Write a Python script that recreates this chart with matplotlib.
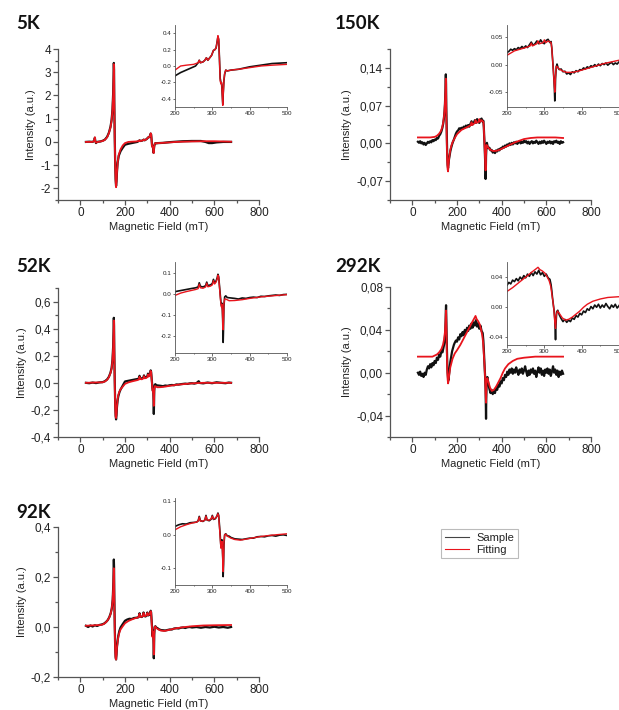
import numpy as np
import matplotlib
matplotlib.use("Agg")
import matplotlib.pyplot as plt
from matplotlib.ticker import FixedLocator, FixedFormatter, MultipleLocator
from matplotlib.lines import Line2D

plt.rcParams['font.family'] = ['Liberation Sans', 'DejaVu Sans']

# EPR spectra, columns: field (mT), intensity (a.u.)
sample_5k = np.array([
    (25, 0.00), (40, 0.01), (55, 0.00), (62, 0.05), (65, 0.18), (67, 0.05), (70, -0.05),
    (75, 0.00), (90, 0.02), (100, 0.05), (110, 0.10), (120, 0.22), (128, 0.40), (135, 0.65),
    (140, 0.95), (144, 1.40), (147, 2.10), (149, 2.90), (150, 3.40), (151, 3.10), (152, 1.80),
    (154, 0.20), (156, -0.90), (158, -1.60), (160, -1.90), (162, -1.70), (164, -1.30),
    (167, -0.90), (172, -0.60), (180, -0.40), (190, -0.25), (200, -0.12), (215, -0.08),
    (230, -0.05), (245, -0.02), (255, 0.00), (262, 0.04), (265, 0.07), (268, 0.04),
    (275, 0.05), (280, 0.07), (284, 0.10), (288, 0.07), (293, 0.10), (298, 0.13),
    (303, 0.19), (307, 0.20), (310, 0.22), (313, 0.30), (315, 0.36), (317, 0.32),
    (319, 0.10), (321, -0.15), (323, -0.20), (325, -0.22), (327, -0.38), (328, -0.47),
    (329, -0.35), (331, -0.18), (333, -0.10), (336, -0.05), (340, -0.06), (350, -0.05),
    (370, -0.04), (400, -0.01), (430, 0.01), (460, 0.03), (500, 0.04), (540, 0.04),
    (560, 0.00), (575, -0.05), (590, -0.05), (610, -0.02), (640, 0.00), (675, 0.00)])
fit_5k = np.array([
    (25, 0.00), (55, 0.00), (62, 0.05), (65, 0.20), (67, 0.03), (70, -0.03), (78, 0.00),
    (100, 0.04), (110, 0.09), (120, 0.20), (128, 0.38), (135, 0.62), (140, 0.92),
    (144, 1.38), (147, 2.05), (149, 2.85), (150, 3.35), (151, 3.05), (152, 1.75),
    (154, 0.15), (156, -0.95), (158, -1.65), (160, -1.95), (162, -1.72), (164, -1.30),
    (167, -0.90), (172, -0.55), (180, -0.32), (190, -0.15), (200, -0.05), (215, 0.00),
    (230, 0.01), (250, 0.02), (262, 0.04), (265, 0.07), (268, 0.04), (275, 0.05),
    (280, 0.07), (284, 0.10), (288, 0.07), (293, 0.10), (298, 0.13), (303, 0.19),
    (307, 0.20), (310, 0.22), (313, 0.30), (315, 0.37), (317, 0.33), (319, 0.10),
    (321, -0.18), (323, -0.22), (325, -0.20), (327, -0.40), (328, -0.48), (329, -0.36),
    (331, -0.18), (333, -0.09), (336, -0.05), (340, -0.06), (350, -0.05), (370, -0.04),
    (400, -0.02), (430, 0.00), (460, 0.01), (500, 0.02), (550, 0.03), (600, 0.03),
    (640, 0.02), (675, 0.01)])

sample_150k = np.array([
    (25, 0.003), (30, 0.001), (35, 0.004), (40, 0.000), (45, 0.002), (50, -0.002),
    (55, 0.001), (60, -0.003), (65, 0.000), (70, 0.003), (75, 0.001), (80, 0.004),
    (85, 0.002), (90, 0.006), (95, 0.004), (100, 0.007), (105, 0.006), (110, 0.010),
    (115, 0.009), (120, 0.014), (125, 0.017), (130, 0.022), (134, 0.028), (138, 0.036),
    (141, 0.045), (144, 0.058), (146, 0.072), (148, 0.095), (149, 0.115), (150, 0.128),
    (151, 0.110), (152, 0.070), (154, 0.020), (156, -0.020), (158, -0.040), (160, -0.046),
    (162, -0.038), (164, -0.030), (167, -0.022), (170, -0.015), (174, -0.008), (178, -0.002),
    (182, 0.003), (186, 0.007), (190, 0.012), (195, 0.018), (200, 0.022), (205, 0.024),
    (210, 0.028), (215, 0.026), (220, 0.029), (225, 0.027), (230, 0.031), (235, 0.029),
    (240, 0.033), (245, 0.030), (250, 0.034), (255, 0.031), (260, 0.036), (265, 0.041),
    (270, 0.035), (275, 0.038), (280, 0.043), (285, 0.038), (290, 0.045), (295, 0.040),
    (300, 0.038), (305, 0.044), (310, 0.046), (315, 0.040), (318, 0.042), (320, 0.030),
    (322, 0.012), (324, -0.008), (326, -0.030), (327, -0.045), (328, -0.066), (329, -0.055),
    (330, -0.025), (332, -0.004), (334, 0.001), (337, -0.006), (340, -0.009), (345, -0.008),
    (350, -0.013), (355, -0.012), (360, -0.017), (365, -0.015), (370, -0.018), (375, -0.013),
    (380, -0.015), (385, -0.011), (390, -0.013), (395, -0.009), (400, -0.010), (405, -0.006),
    (410, -0.008), (415, -0.004), (420, -0.006), (425, -0.002), (430, -0.004), (435, 0.000),
    (440, -0.003), (445, 0.001), (450, -0.002), (455, 0.002), (460, 0.000), (465, 0.003),
    (470, -0.001), (475, 0.002), (480, 0.004), (485, 0.000), (490, 0.003), (495, 0.001),
    (500, 0.005), (505, 0.002), (510, 0.004), (515, 0.000), (520, 0.003), (525, -0.001),
    (530, 0.002), (535, 0.004), (540, 0.000), (545, 0.003), (550, 0.001), (555, 0.005),
    (560, 0.002), (565, -0.001), (570, 0.003), (575, 0.000), (580, 0.004), (585, 0.001),
    (590, 0.005), (595, 0.002), (600, -0.001), (605, 0.003), (610, 0.001), (615, 0.004),
    (620, 0.000), (625, 0.003), (630, -0.001), (635, 0.004), (640, 0.002), (645, 0.005),
    (650, 0.001), (655, 0.003), (660, -0.001), (665, 0.004), (670, 0.001), (675, 0.002)])
fit_150k = np.array([
    (25, 0.011), (80, 0.011), (100, 0.012), (110, 0.014), (120, 0.018), (128, 0.023),
    (134, 0.030), (138, 0.038), (141, 0.047), (144, 0.060), (146, 0.075), (148, 0.095),
    (149, 0.110), (150, 0.120), (151, 0.100), (152, 0.060), (154, 0.010), (156, -0.030),
    (158, -0.048), (160, -0.052), (162, -0.040), (164, -0.030), (167, -0.020), (170, -0.012),
    (175, -0.004), (180, 0.002), (190, 0.010), (200, 0.017), (220, 0.025), (250, 0.031),
    (262, 0.034), (265, 0.039), (268, 0.034), (280, 0.038), (283, 0.043), (287, 0.038),
    (297, 0.040), (300, 0.045), (304, 0.040), (310, 0.043), (318, 0.040), (320, 0.030),
    (322, 0.010), (324, -0.010), (326, -0.030), (328, -0.050), (330, -0.020), (332, -0.003),
    (335, -0.004), (340, -0.008), (350, -0.012), (360, -0.014), (375, -0.014), (390, -0.012),
    (400, -0.010), (420, -0.006), (440, -0.002), (460, 0.002), (480, 0.005), (500, 0.008),
    (530, 0.010), (560, 0.011), (600, 0.011), (640, 0.011), (675, 0.010)])

sample_52k = np.array([
    (25, 0.000), (40, -0.003), (55, 0.002), (70, -0.002), (85, 0.003), (100, 0.005),
    (110, 0.012), (120, 0.025), (128, 0.045), (135, 0.075), (140, 0.110), (144, 0.170),
    (147, 0.270), (149, 0.400), (150, 0.480), (151, 0.420), (152, 0.250), (154, 0.020),
    (156, -0.150), (158, -0.240), (160, -0.270), (162, -0.240), (164, -0.180), (167, -0.130),
    (170, -0.100), (175, -0.070), (180, -0.050), (190, -0.020), (200, 0.010), (215, 0.015),
    (230, 0.020), (245, 0.025), (255, 0.028), (262, 0.032), (265, 0.052), (268, 0.035),
    (275, 0.032), (282, 0.038), (285, 0.055), (288, 0.038), (295, 0.042), (300, 0.048),
    (303, 0.068), (306, 0.052), (310, 0.060), (313, 0.075), (315, 0.092), (317, 0.080),
    (319, 0.040), (321, 0.000), (323, -0.040), (325, -0.060), (326, -0.045), (327, -0.080),
    (328, -0.140), (329, -0.230), (330, -0.160), (331, -0.060), (333, -0.015), (336, -0.010),
    (340, -0.018), (350, -0.020), (360, -0.022), (370, -0.025), (380, -0.020), (390, -0.022),
    (400, -0.018), (410, -0.016), (420, -0.018), (430, -0.012), (440, -0.013), (450, -0.010),
    (460, -0.008), (470, -0.006), (480, -0.008), (490, -0.004), (500, -0.003), (510, -0.006),
    (520, -0.002), (530, 0.012), (535, -0.001), (550, -0.004), (570, 0.002), (590, -0.003),
    (610, 0.004), (630, 0.000), (650, -0.003), (665, 0.002), (675, 0.000)])
fit_52k = np.array([
    (25, 0.000), (100, 0.004), (110, 0.010), (120, 0.022), (128, 0.042), (135, 0.072),
    (140, 0.105), (144, 0.165), (147, 0.260), (149, 0.380), (150, 0.460), (151, 0.410),
    (152, 0.240), (154, 0.000), (156, -0.170), (158, -0.250), (160, -0.260), (162, -0.230),
    (164, -0.170), (167, -0.120), (170, -0.090), (175, -0.065), (180, -0.048), (190, -0.028),
    (200, -0.008), (215, 0.003), (230, 0.010), (245, 0.016), (255, 0.020), (262, 0.024),
    (265, 0.045), (268, 0.028), (275, 0.026), (282, 0.032), (285, 0.050), (288, 0.033),
    (295, 0.036), (300, 0.042), (303, 0.062), (306, 0.046), (310, 0.055), (313, 0.070),
    (315, 0.088), (317, 0.078), (319, 0.035), (321, -0.010), (323, -0.050), (325, -0.065),
    (326, -0.050), (327, -0.085), (328, -0.130), (329, -0.170), (330, -0.120), (331, -0.050),
    (333, -0.025), (336, -0.025), (345, -0.033), (360, -0.032), (380, -0.028), (400, -0.022),
    (430, -0.015), (460, -0.010), (500, -0.004), (550, 0.000), (600, 0.000), (675, 0.000)])

sample_292k = np.array([
    (25, 0.000), (30, -0.002), (35, 0.001), (40, -0.003), (45, -0.001), (50, -0.004),
    (55, 0.000), (60, -0.002), (65, 0.003), (70, 0.006), (75, 0.004), (80, 0.008),
    (85, 0.005), (90, 0.009), (95, 0.007), (100, 0.011), (105, 0.009), (110, 0.014),
    (115, 0.012), (120, 0.017), (125, 0.015), (130, 0.020), (135, 0.019), (140, 0.024),
    (144, 0.028), (147, 0.036), (149, 0.048), (150, 0.058), (151, 0.063), (152, 0.050),
    (154, 0.030), (156, 0.012), (158, 0.000), (160, -0.005), (162, -0.007), (164, -0.003),
    (167, 0.004), (170, 0.010), (174, 0.015), (178, 0.020), (182, 0.023), (186, 0.026),
    (190, 0.028), (195, 0.030), (200, 0.029), (205, 0.033), (210, 0.031), (215, 0.036),
    (220, 0.034), (225, 0.038), (230, 0.035), (235, 0.040), (240, 0.037), (245, 0.042),
    (250, 0.039), (255, 0.044), (260, 0.041), (265, 0.046), (270, 0.042), (275, 0.047),
    (280, 0.044), (285, 0.049), (290, 0.043), (295, 0.046), (300, 0.041), (305, 0.044),
    (310, 0.039), (315, 0.037), (318, 0.030), (320, 0.022), (322, 0.012), (324, 0.004),
    (326, -0.004), (328, -0.015), (329, -0.030), (330, -0.043), (331, -0.025), (333, -0.006),
    (336, -0.004), (340, -0.010), (345, -0.015), (350, -0.019), (355, -0.016), (360, -0.020),
    (365, -0.017), (370, -0.019), (375, -0.014), (380, -0.016), (385, -0.011), (390, -0.013),
    (395, -0.008), (400, -0.010), (405, -0.005), (410, -0.007), (415, -0.002), (420, -0.004),
    (425, 0.001), (430, -0.002), (435, 0.003), (440, 0.000), (445, 0.004), (450, -0.001),
    (455, 0.003), (460, 0.000), (465, 0.005), (470, 0.001), (475, -0.002), (480, 0.003),
    (485, 0.000), (490, 0.004), (495, -0.001), (500, 0.002), (505, 0.006), (510, 0.001),
    (515, -0.003), (520, 0.002), (525, -0.002), (530, 0.003), (535, 0.000), (540, 0.004),
    (545, -0.001), (550, 0.002), (555, -0.004), (560, 0.001), (565, 0.005), (570, 0.000),
    (575, 0.004), (580, -0.002), (585, 0.002), (590, -0.003), (595, 0.003), (600, 0.000),
    (605, 0.004), (610, -0.001), (615, 0.003), (620, -0.003), (625, 0.001), (630, 0.006),
    (635, 0.000), (640, 0.003), (645, -0.002), (650, 0.002), (655, -0.004), (660, 0.001),
    (665, -0.002), (670, 0.002), (675, -0.001)])
fit_292k = np.array([
    (25, 0.015), (90, 0.015), (100, 0.016), (110, 0.017), (120, 0.019), (130, 0.022),
    (137, 0.026), (142, 0.031), (146, 0.038), (148, 0.045), (150, 0.055), (151, 0.058),
    (152, 0.048), (154, 0.025), (156, 0.005), (158, -0.006), (160, -0.010), (162, -0.008),
    (165, -0.002), (170, 0.005), (180, 0.013), (190, 0.018), (200, 0.021), (215, 0.026),
    (230, 0.032), (245, 0.038), (260, 0.044), (270, 0.048), (278, 0.051), (283, 0.053),
    (288, 0.050), (295, 0.048), (302, 0.045), (308, 0.040), (313, 0.035), (317, 0.028),
    (320, 0.018), (323, 0.008), (326, -0.005), (328, -0.020), (330, -0.028), (332, -0.010),
    (335, -0.005), (340, -0.008), (348, -0.014), (356, -0.017), (365, -0.016), (375, -0.013),
    (385, -0.009), (395, -0.005), (405, 0.000), (415, 0.004), (430, 0.008), (450, 0.011),
    (470, 0.013), (500, 0.014), (550, 0.015), (600, 0.015), (675, 0.015)])

sample_92k = np.array([
    (25, 0.005), (35, 0.000), (45, 0.006), (55, 0.002), (65, 0.007), (75, 0.004),
    (85, 0.008), (95, 0.010), (105, 0.013), (115, 0.020), (123, 0.028), (130, 0.040),
    (136, 0.055), (141, 0.075), (145, 0.110), (148, 0.180), (150, 0.270), (151, 0.240),
    (152, 0.140), (154, 0.010), (156, -0.080), (158, -0.120), (160, -0.130), (162, -0.110),
    (164, -0.080), (167, -0.055), (170, -0.035), (175, -0.015), (180, -0.002), (190, 0.012),
    (200, 0.025), (210, 0.030), (220, 0.033), (230, 0.032), (240, 0.036), (250, 0.037),
    (258, 0.038), (262, 0.042), (265, 0.055), (268, 0.042), (275, 0.040), (280, 0.044),
    (283, 0.058), (286, 0.044), (292, 0.042), (297, 0.047), (300, 0.058), (303, 0.046),
    (308, 0.048), (312, 0.055), (315, 0.065), (317, 0.058), (319, 0.030), (321, 0.000),
    (323, -0.035), (325, -0.020), (326, -0.015), (327, -0.040), (328, -0.070), (329, -0.125),
    (330, -0.090), (331, -0.030), (333, 0.000), (336, 0.003), (340, -0.003), (345, -0.004),
    (350, -0.008), (360, -0.012), (370, -0.013), (380, -0.014), (390, -0.012), (400, -0.010),
    (410, -0.010), (420, -0.006), (430, -0.005), (440, -0.006), (450, -0.003), (460, -0.002),
    (470, -0.004), (480, -0.001), (490, 0.000), (500, -0.002), (520, 0.000), (540, -0.003),
    (560, 0.000), (580, -0.002), (600, 0.001), (620, -0.002), (640, 0.000), (660, -0.003),
    (675, 0.000)])
fit_92k = np.array([
    (25, 0.005), (90, 0.008), (100, 0.010), (110, 0.015), (120, 0.024), (128, 0.035),
    (135, 0.050), (140, 0.070), (144, 0.100), (147, 0.150), (149, 0.210), (150, 0.235),
    (151, 0.210), (152, 0.120), (154, 0.000), (156, -0.090), (158, -0.125), (160, -0.130),
    (162, -0.110), (164, -0.080), (167, -0.060), (170, -0.040), (175, -0.022), (180, -0.010),
    (190, 0.003), (200, 0.015), (215, 0.024), (230, 0.030), (245, 0.035), (258, 0.038),
    (262, 0.041), (265, 0.053), (268, 0.041), (275, 0.041), (280, 0.044), (283, 0.056),
    (286, 0.044), (292, 0.044), (297, 0.048), (300, 0.056), (303, 0.047), (308, 0.050),
    (312, 0.055), (315, 0.063), (317, 0.056), (319, 0.025), (321, -0.008), (323, -0.040),
    (325, -0.028), (326, -0.020), (327, -0.045), (328, -0.080), (329, -0.110), (330, -0.080),
    (331, -0.025), (333, 0.000), (336, 0.002), (340, -0.004), (350, -0.010), (360, -0.014),
    (375, -0.016), (390, -0.013), (410, -0.009), (430, -0.005), (460, -0.001), (500, 0.003),
    (550, 0.006), (600, 0.007), (675, 0.008)])

# tick labels (decimal comma on the main axes, point on the insets)
x_main_ticks = [0, 200, 400, 600, 800]
x_inset_ticks = [200, 300, 400, 500]

yt_5k = [-2, -1, 0, 1, 2, 3, 4]
ytl_5k = ['-2', '-1', '0', '1', '2', '3', '4']
yt_5k_in = [-0.4, -0.2, 0.0, 0.2, 0.4]
ytl_5k_in = ['-0.4', '-0.2', '0.0', '0.2', '0.4']

yt_150k = [-0.07, 0.0, 0.07, 0.14]
ytl_150k = ['-0,07', '0,00', '0,07', '0,14']
yt_150k_in = [-0.05, 0.0, 0.05]
ytl_150k_in = ['-0.05', '0.00', '0.05']

yt_52k = [-0.4, -0.2, 0.0, 0.2, 0.4, 0.6]
ytl_52k = ['-0,4', '-0,2', '0,0', '0,2', '0,4', '0,6']
yt_52k_in = [-0.2, -0.1, 0.0, 0.1]
ytl_52k_in = ['-0.2', '-0.1', '0.0', '0.1']

yt_292k = [-0.04, 0.0, 0.04, 0.08]
ytl_292k = ['-0,04', '0,00', '0,04', '0,08']
yt_292k_in = [-0.04, 0.0, 0.04]
ytl_292k_in = ['-0.04', '0.00', '0.04']

yt_92k = [-0.2, 0.0, 0.2, 0.4]
ytl_92k = ['-0,2', '0,0', '0,2', '0,4']
yt_92k_in = [-0.1, 0.0, 0.1]
ytl_92k_in = ['-0.1', '0.0', '0.1']

W, H = 619, 710
fig = plt.figure(figsize=(W / 100, H / 100), dpi=100)
fig.patch.set_facecolor('white')


def px_box(left, top, right, bottom):
    return [left / W, 1 - bottom / H, (right - left) / W, (bottom - top) / H]


AXIS_COLOR = '#555555'
TEXT_COLOR = '#222222'
SAMPLE_COLOR = '#111111'
FIT_COLOR = '#e8141c'


def style_axes(ax, labelsize, major_len, minor_len, lw, pad):
    for side in ('top', 'right'):
        ax.spines[side].set_visible(False)
    for side in ('left', 'bottom'):
        ax.spines[side].set_color(AXIS_COLOR)
        ax.spines[side].set_linewidth(lw)
    ax.tick_params(which='major', direction='out', length=major_len, width=lw,
                   color=AXIS_COLOR, labelsize=labelsize, labelcolor=TEXT_COLOR, pad=pad)
    ax.tick_params(which='minor', direction='out', length=minor_len, width=lw,
                   color=AXIS_COLOR)


def draw_panel(title, title_xy, main_box, ylim, yt, ytl, yminor,
               inset_box, inset_ylim, yt_in, ytl_in, sample, fit):
    ax = fig.add_axes(px_box(*main_box))
    ax.plot(sample[:, 0], sample[:, 1], color=SAMPLE_COLOR, lw=1.6)
    ax.plot(fit[:, 0], fit[:, 1], color=FIT_COLOR, lw=1.3)
    ax.set_xlim(-100, 800)
    ax.set_ylim(*ylim)
    ax.xaxis.set_major_locator(FixedLocator(x_main_ticks))
    ax.xaxis.set_minor_locator(MultipleLocator(100))
    ax.yaxis.set_major_locator(FixedLocator(yt))
    ax.yaxis.set_major_formatter(FixedFormatter(ytl))
    ax.yaxis.set_minor_locator(MultipleLocator(yminor))
    style_axes(ax, 8.5, 3.5, 2, 0.9, 1.5)
    ax.set_xlabel('Magnetic Field (mT)', fontsize=8, color=TEXT_COLOR, labelpad=2)
    ax.set_ylabel('Intensity (a.u.)', fontsize=8, color=TEXT_COLOR, labelpad=3)
    ax.patch.set_alpha(0)

    ins = fig.add_axes(px_box(*inset_box))
    ins.plot(sample[:, 0], sample[:, 1], color=SAMPLE_COLOR, lw=1.2)
    ins.plot(fit[:, 0], fit[:, 1], color=FIT_COLOR, lw=1.0)
    ins.set_xlim(200, 500)
    ins.set_ylim(*inset_ylim)
    ins.xaxis.set_major_locator(FixedLocator(x_inset_ticks))
    ins.xaxis.set_minor_locator(MultipleLocator(50))
    ins.yaxis.set_major_locator(FixedLocator(yt_in))
    ins.yaxis.set_major_formatter(FixedFormatter(ytl_in))
    style_axes(ins, 4.5, 1.8, 1.0, 0.6, 1.0)

    fig.text(title_xy[0] / W, 1 - title_xy[1] / H, title, fontsize=13.5,
             fontweight='bold', family=['Lato', 'DejaVu Sans'], color='#111111',
             ha='left', va='baseline')


draw_panel('5K', (16, 29), (58, 49, 259, 200), (-2.5, 4.0), yt_5k, ytl_5k, 0.5,
           (175, 25, 287, 107), (-0.5, 0.5), yt_5k_in, ytl_5k_in, sample_5k, fit_5k)
draw_panel('150K', (335, 29), (390, 49, 591, 200), (-0.105, 0.175), yt_150k, ytl_150k, 0.035,
           (507, 25, 619, 107), (-0.077, 0.072), yt_150k_in, ytl_150k_in,
           sample_150k, fit_150k)
draw_panel('52K', (16, 272), (58, 288, 259, 437), (-0.4, 0.7), yt_52k, ytl_52k, 0.1,
           (175, 262, 287, 353), (-0.28, 0.15), yt_52k_in, ytl_52k_in, sample_52k, fit_52k)
draw_panel('292K', (335, 272), (390, 287, 591, 437), (-0.06, 0.08), yt_292k, ytl_292k, 0.02,
           (507, 262, 619, 345), (-0.05, 0.06), yt_292k_in, ytl_292k_in,
           sample_292k, fit_292k)
draw_panel('92K', (16, 518), (58, 527, 259, 677), (-0.2, 0.4), yt_92k, ytl_92k, 0.1,
           (175, 498, 287, 585), (-0.15, 0.11), yt_92k_in, ytl_92k_in, sample_92k, fit_92k)

handles = [Line2D([], [], color='#444444', lw=0.8),
           Line2D([], [], color=FIT_COLOR, lw=0.8)]
leg = fig.legend(handles, ['Sample', 'Fitting'], loc='upper left',
                 bbox_to_anchor=(441 / W, 1 - 529 / H), borderaxespad=0,
                 fontsize=8, frameon=True, fancybox=False, handlelength=2.2,
                 handletextpad=0.6, borderpad=0.35, labelspacing=0.15)
leg.get_frame().set_edgecolor('#aaaaaa')
leg.get_frame().set_linewidth(0.8)
for t in leg.get_texts():
    t.set_color(TEXT_COLOR)

fig.savefig('out.png', dpi=100, facecolor='white')
